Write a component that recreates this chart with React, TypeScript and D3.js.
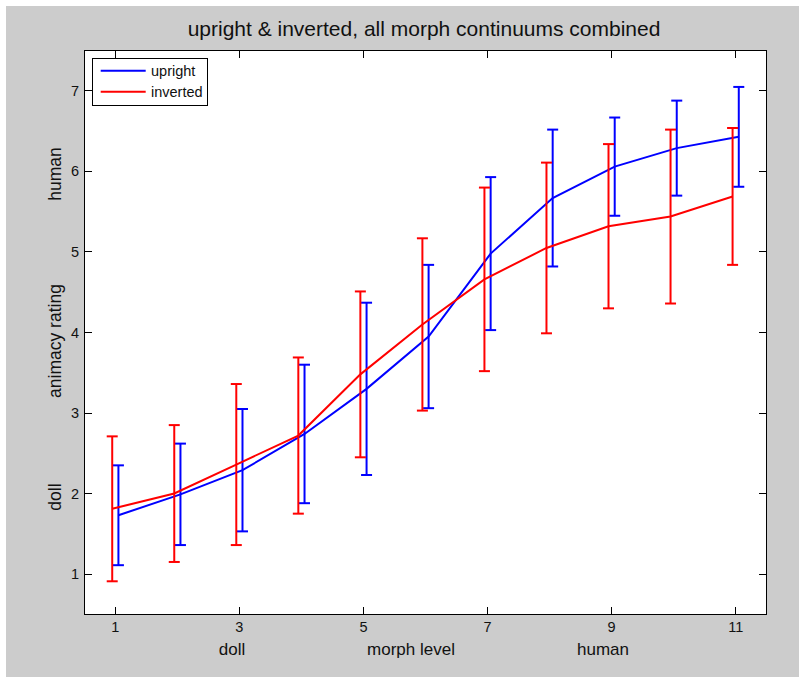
import React from "react";
import * as d3 from "d3";

// Morph levels on the x axis
const levels = [1, 2, 3, 4, 5, 6, 7, 8, 9, 10, 11];

// Mean animacy rating and error half-width per morph level
const uprightMean = [1.73, 1.99, 2.29, 2.74, 3.3, 3.95, 4.98, 5.67, 6.06, 6.29, 6.43];
const uprightErr = [0.62, 0.63, 0.76, 0.86, 1.07, 0.89, 0.95, 0.85, 0.61, 0.59, 0.62];
const invertedMean = [1.81, 2.0, 2.36, 2.72, 3.48, 4.1, 4.66, 5.05, 5.32, 5.44, 5.69];
const invertedErr = [0.9, 0.85, 1.0, 0.97, 1.03, 1.07, 1.14, 1.06, 1.02, 1.08, 0.85];

const xTicks = [1, 3, 5, 7, 9, 11];
const yTicks = [1, 2, 3, 4, 5, 6, 7];

const seriesNames = ["upright", "inverted"];
const seriesColors = ["#0000ff", "#ff0000"];
const seriesOffsets = [0.05, -0.05];

const W = 799;
const H = 677;
const FONT = "'Liberation Sans', Arial, Helvetica, sans-serif";

const x = d3.scaleLinear().domain([0.5, 11.5]).range([84.3, 766.7]);
const y = d3.scaleLinear().domain([0.5, 7.5]).range([614.3, 50.7]);

function Label({ tx, ty, size, text, anchor = "middle", rotate = 0 }: any) {
  const tr = rotate ? `translate(${tx},${ty}) rotate(${rotate})` : `translate(${tx},${ty})`;
  return (
    <text transform={tr} textAnchor={anchor} fontFamily={FONT} fontSize={size} fill="#111">
      {text}
    </text>
  );
}

function Series({ means, errs, color, offset }: any) {
  const pts: [number, number][] = levels.map((l, i) => [x(l + offset), y(means[i])]);
  const line = d3.line()(pts) as string;
  const cap = 5.5;
  return (
    <g>
      <path d={line} fill="none" stroke={color} strokeWidth={2} />
      {levels.map((l, i) => {
        const cx = x(l + offset);
        const top = y(means[i] + errs[i]);
        const bot = y(means[i] - errs[i]);
        return (
          <g key={l} stroke={color} strokeWidth={2}>
            <line x1={cx} x2={cx} y1={top} y2={bot} />
            <line x1={cx - cap} x2={cx + cap} y1={top} y2={top} />
            <line x1={cx - cap} x2={cx + cap} y1={bot} y2={bot} />
          </g>
        );
      })}
    </g>
  );
}

export default function App() {
  const [x0, x1] = x.range();
  const [y0, y1] = y.range();
  const tickLen = 7.5;
  return (
    <svg width={W} height={H} style={{ position: "absolute", left: 0, top: 0 }}>
      <rect x={0} y={0} width={W} height={H} fill="#ffffff" />
      <rect x={6} y={6} width={W - 6} height={H - 6} fill="#cccccc" />
      <rect x={x0} y={y1} width={x1 - x0} height={y0 - y1} fill="#ffffff" />

      {/* data */}
      <Series means={uprightMean} errs={uprightErr} color={seriesColors[0]} offset={seriesOffsets[0]} />
      <Series means={invertedMean} errs={invertedErr} color={seriesColors[1]} offset={seriesOffsets[1]} />

      {/* axes box and ticks */}
      <g stroke="#000" strokeWidth={1} shapeRendering="crispEdges">
        <rect x={x0} y={y1} width={x1 - x0} height={y0 - y1} fill="none" />
        {xTicks.map((t) => (
          <g key={t}>
            <line x1={x(t)} x2={x(t)} y1={y0} y2={y0 - tickLen} />
            <line x1={x(t)} x2={x(t)} y1={y1} y2={y1 + tickLen} />
          </g>
        ))}
        {yTicks.map((t) => (
          <g key={t}>
            <line x1={x0} x2={x0 + tickLen} y1={y(t)} y2={y(t)} />
            <line x1={x1} x2={x1 - tickLen} y1={y(t)} y2={y(t)} />
          </g>
        ))}
      </g>

      {/* tick labels */}
      {xTicks.map((t) => (
        <Label key={t} tx={x(t)} ty={632} size={14.5} text={String(t)} />
      ))}
      {yTicks.map((t) => (
        <Label key={t} tx={79} ty={y(t) + 5} size={14.5} text={String(t)} anchor="end" />
      ))}

      {/* title */}
      <Label tx={424} ty={36} size={21} text="upright & inverted, all morph continuums combined" />

      {/* x axis labels */}
      <Label tx={232} ty={655} size={17} text="doll" />
      <Label tx={411} ty={655} size={17} text="morph level" />
      <Label tx={603} ty={655} size={17} text="human" />

      {/* y axis labels */}
      <Label tx={61} ty={174} size={17.5} text="human" rotate={-90} />
      <Label tx={61} ty={341} size={17.5} text="animacy rating" rotate={-90} />
      <Label tx={61} ty={497} size={17.5} text="doll" rotate={-90} />

      {/* legend */}
      <g>
        <rect x={92.5} y={58.5} width={115} height={47} fill="#ffffff" stroke="#000" strokeWidth={1} shapeRendering="crispEdges" />
        {seriesNames.map((n, i) => (
          <g key={n}>
            <line x1={100.7} x2={145.7} y1={70.7 + i * 21} y2={70.7 + i * 21} stroke={seriesColors[i]} strokeWidth={2} />
            <Label tx={151} ty={75.8 + i * 21} size={14.5} text={n} anchor="start" />
          </g>
        ))}
      </g>
    </svg>
  );
}
